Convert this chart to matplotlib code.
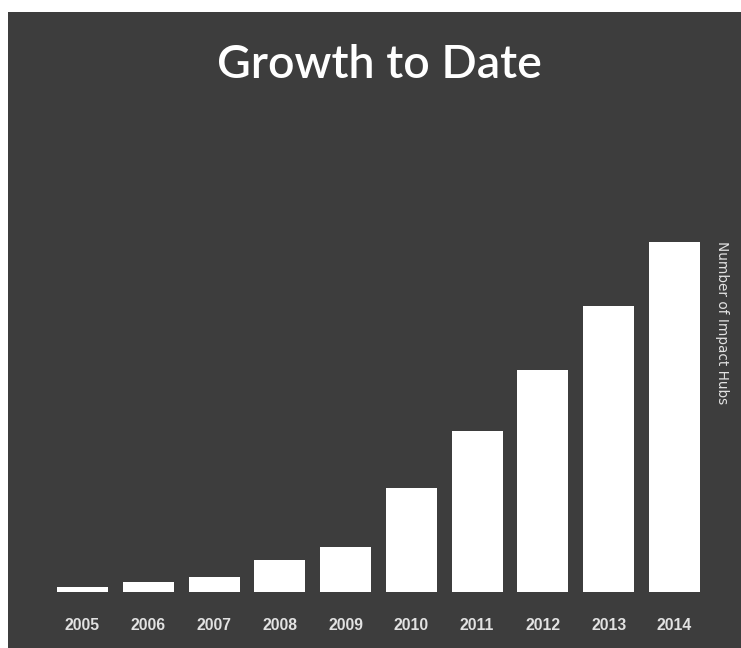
import matplotlib.pyplot as plt

# Impact Hubs opened per year (cumulative count)
years = ['2005', '2006', '2007', '2008', '2009', '2010', '2011', '2012', '2013', '2014']
hubs = [1, 2, 3, 6.4, 9, 20.8, 32.2, 44.4, 57.2, 70]

bg = '#3d3d3d'
txt = '#e2e2e2'

W, H = 741, 648
fig = plt.figure(figsize=(W / 100, H / 100), dpi=100, facecolor='white')

# dark panel behind everything
back = fig.add_axes([8 / W, 0, 1 - 8 / W, 1 - 12 / H])
back.set_facecolor(bg)
back.set_xticks([])
back.set_yticks([])
for s in back.spines.values():
    s.set_visible(False)

# axes placed in pixel terms: bars sit on y=592, tallest bar top at y=242
left, right = 49.6, 707.4
ax = fig.add_axes([left / W, (H - 592) / H, (right - left) / W, 350 / H])
ax.set_facecolor('none')
x = range(len(years))
ax.bar(x, hubs, width=0.775, color='white', edgecolor='none')
ax.set_xlim(-0.5, len(years) - 0.5)
ax.set_ylim(0, 70)
for s in ax.spines.values():
    s.set_visible(False)
ax.set_yticks([])
ax.set_xticks(list(x))
ax.set_xticklabels(years, family=['Liberation Sans', 'DejaVu Sans'], fontweight='bold',
                   fontsize=11.3, color=txt)
ax.tick_params(axis='x', length=0, pad=18.5)

fig.text(379 / W, 1 - 78 / H, 'Growth to Date', ha='center', va='baseline',
         family=['Lato', 'DejaVu Sans'], fontweight='semibold', fontsize=33.5, color='white')
fig.text(722 / W, 1 - 322.5 / H, 'Number of Impact Hubs', rotation=270, ha='center', va='center',
         family=['DejaVu Sans'], fontsize=9.8, color=txt)

fig.savefig('out.png', dpi=100, facecolor=fig.get_facecolor())
